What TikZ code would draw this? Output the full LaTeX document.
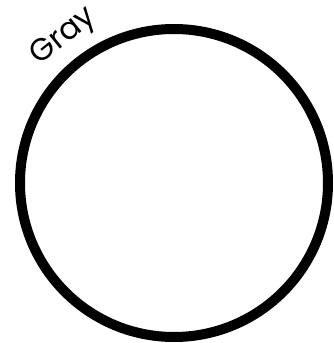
\documentclass[tikz,border=0pt]{standalone}
\usepackage{fontspec}
\setmainfont{Poppins}
\begin{document}
\begin{tikzpicture}[x=1pt, y=1pt, line join=round, line cap=round]
				\useasboundingbox (0,0) rectangle (333,343);
				\clip (0,0) rectangle (333,343);
				\draw[line width=10pt] (174,160) circle (154);
				\node[rotate=39, font=\fontsize{31}{33}\selectfont] (gray) at (64,306) {Gray};
			\end{tikzpicture}
\end{document}
